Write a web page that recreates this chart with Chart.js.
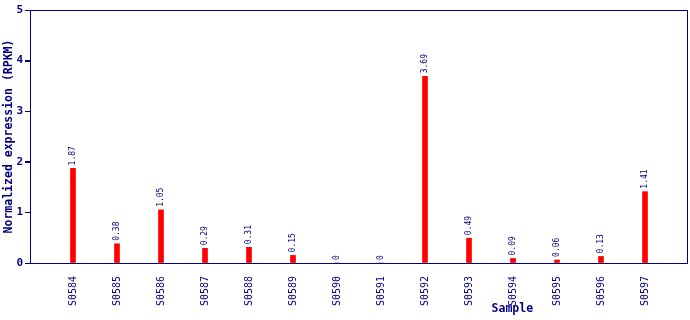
<!DOCTYPE html>
<html>
<head>
<meta charset="utf-8">
<script src="https://cdn.jsdelivr.net/npm/chart.js@4"></script>
<style>
  html, body { margin: 0; padding: 0; background: #fff; }
  #wrap { width: 690px; height: 320px; }
</style>
</head>
<body>
<div id="wrap"><canvas id="chart" width="690" height="320"></canvas></div>
<script>
const samples = ["S0584", "S0585", "S0586", "S0587", "S0588", "S0589", "S0590",
                 "S0591", "S0592", "S0593", "S0594", "S0595", "S0596", "S0597"];
const expression = [1.87, 0.38, 1.05, 0.29, 0.31, 0.15, 0, 0, 3.69, 0.49, 0.09, 0.06, 0.13, 1.41];
const yTicks = [0, 1, 2, 3, 4, 5];

const NAVY = "#000080";
const MONO = "'DejaVu Sans Mono', 'Liberation Mono', monospace";

// border around plot, y tick marks, value labels above bars
const decorations = {
    id: "decorations",
    afterDatasetsDraw(chart) {
        const ctx = chart.ctx;
        const area = chart.chartArea;
        ctx.save();
        ctx.strokeStyle = NAVY;
        ctx.lineWidth = 1;
        ctx.strokeRect(area.left + 0.5, area.top + 0.5, area.right - area.left - 1, area.bottom - area.top);

        const yScale = chart.scales.y;
        ctx.beginPath();
        yTicks.forEach(t => {
            const py = Math.round(yScale.getPixelForValue(t)) + 0.5;
            ctx.moveTo(area.left - 5, py);
            ctx.lineTo(area.left, py);
        });
        ctx.stroke();

        const meta = chart.getDatasetMeta(0);
        ctx.fillStyle = NAVY;
        ctx.font = "8px " + MONO;
        ctx.textAlign = "left";
        ctx.textBaseline = "middle";
        meta.data.forEach((bar, i) => {
            const v = expression[i];
            const txt = v === 0 ? "0" : v.toFixed(2);
            ctx.save();
            ctx.translate(bar.x, bar.y - 3);
            ctx.rotate(-Math.PI / 2);
            ctx.fillText(txt, 0, 0);
            ctx.restore();
        });

        // x axis title, sits right of centre in the reference
        ctx.font = "bold 11.5px " + MONO;
        ctx.textAlign = "center";
        ctx.textBaseline = "middle";
        ctx.fillText("Sample", area.left + (area.right - area.left) * 0.733, 309);
        ctx.restore();
    }
};

new Chart(document.getElementById("chart"), {
    type: "bar",
    data: {
        datasets: [{
            data: expression.map((v, i) => ({ x: i, y: v })),
            backgroundColor: "#ff0000",
            borderWidth: 0,
            barThickness: 5
        }]
    },
    options: {
        responsive: false,
        animation: false,
        layout: { padding: { top: 10, right: 2, left: 0, bottom: 0 } },
        plugins: { legend: { display: false }, tooltip: { enabled: false } },
        scales: {
            x: {
                type: "linear",
                offset: false,
                min: -0.977,
                max: 13.977,
                afterBuildTicks: scale => { scale.ticks = samples.map((_, i) => ({ value: i })); },
                afterFit: scale => { scale.height = 57; },
                grid: { display: false, offset: false },
                border: { display: false },
                ticks: {
                    autoSkip: false,
                    minRotation: 90,
                    maxRotation: 90,
                    padding: 5,
                    color: NAVY,
                    font: { family: MONO, size: 10 },
                    callback: v => samples[v] || ""
                }
            },
            y: {
                min: 0,
                max: 5,
                afterBuildTicks: scale => { scale.ticks = yTicks.map(v => ({ value: v })); },
                afterFit: scale => { scale.width = 30; },
                grid: { drawOnChartArea: false, drawTicks: true, tickLength: 5, color: NAVY },
                border: { display: false },
                ticks: {
                    padding: 2,
                    color: NAVY,
                    font: { family: MONO, size: 11, weight: "bold" }
                },
                title: {
                    display: true,
                    text: "Normalized expression (RPKM)",
                    color: NAVY,
                    padding: { top: 2, bottom: 0 },
                    font: { family: MONO, size: 11.5, weight: "bold" }
                }
            }
        }
    },
    plugins: [decorations]
});
</script>
</body>
</html>
